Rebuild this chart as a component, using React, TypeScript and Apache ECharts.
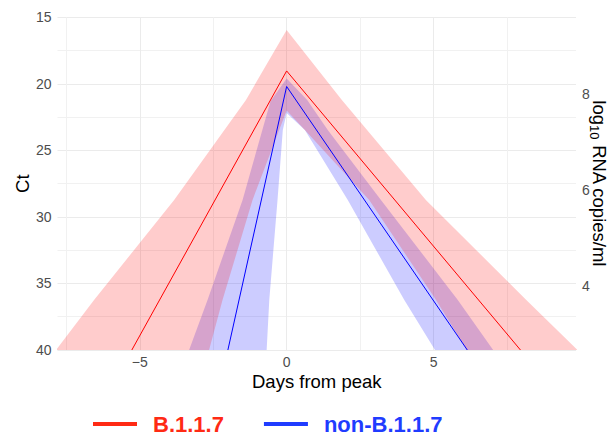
import React, { useEffect, useRef } from "react";
import * as echarts from "echarts";

// Central trajectories (days from peak, Ct)
const redLine: [number, number][] = [[-5.27, 40], [0, 19.03], [7.96, 40]];
const blueLine: [number, number][] = [[-2.0, 40], [0, 20.2], [6.15, 40]];

// Credible-interval ribbons as polygons (days from peak, Ct)
const redRibbon: [number, number][] = [
  [-7.85, 40], [-6.55, 36.23], [-3.83, 28.72], [-1.385, 21.21], [0, 15.95],
  [1.88, 21.21], [4.74, 28.72], [8.15, 36.23], [9.9, 40],
  [6.13, 40], [5.08, 36.23], [2.81, 28.72], [0.62, 23.46], [0, 22.0],
  [-1.16, 28.72], [-2.18, 36.23], [-2.64, 40],
];
const blueRibbon: [number, number][] = [
  [-3.32, 40], [-2.69, 36.23], [-1.5, 28.72], [-0.55, 21.3], [0, 19.6],
  [0.7, 21.21], [1.4, 23.46], [3.21, 28.72], [5.82, 36.23], [7.03, 40],
  [5.05, 40], [4.0, 36.23], [2.08, 28.72], [0.62, 23.46], [0, 22.2],
  [-0.13, 23.46], [-0.31, 28.72], [-0.59, 36.23], [-0.68, 40],
];

const seriesNames = ["B.1.1.7", "non-B.1.1.7"];

const FONT = "Liberation Sans, Arial, Helvetica, sans-serif";
const RED = "#ff0000";
const BLUE = "#0000ff";
const RED_LEG = "#ff2a14";
const BLUE_LEG = "#1f3cff";

function ribbonSeries(pts: [number, number][], fill: string) {
  return {
    type: "custom",
    xAxisIndex: 0,
    yAxisIndex: 0,
    silent: true,
    clip: true,
    data: pts,
    renderItem: (params: any, api: any) => {
      if (params.dataIndex !== 0) return { type: "group", children: [] };
      const points = pts.map((p) => api.coord(p));
      return {
        type: "polygon",
        shape: { points },
        style: { fill, stroke: "none" },
      };
    },
  };
}

export default function App() {
  const ref = useRef<HTMLDivElement>(null);
  useEffect(() => {
    document.body.style.margin = "0";
    if (!ref.current) return;
    const chart = echarts.init(ref.current, undefined, { renderer: "svg" });
    const minus = (v: number) => (v < 0 ? "\u2212" + Math.abs(v) : String(v));
    chart.setOption({
      animation: false,
      backgroundColor: "#ffffff",
      grid: {
        left: 57.5,
        right: 32,
        top: 17.3,
        bottom: 87,
        containLabel: false,
        outerBoundsMode: "none",
      },
      xAxis: {
        type: "value",
        min: -7.8,
        max: 9.85,
        minInterval: 5,
        maxInterval: 5,
        axisLine: { show: false, onZero: false },
        axisTick: { show: false },
        axisLabel: {
          color: "#4d4d4d",
          fontSize: 14,
          fontFamily: FONT,
          margin: 5,
          showMinLabel: false,
          showMaxLabel: false,
          formatter: minus,
        },
        splitLine: {
          show: true,
          showMinLine: false,
          showMaxLine: false,
          lineStyle: { color: "#ebebeb", width: 1 },
        },
        minorTick: { show: false, splitNumber: 2 },
        minorSplitLine: { show: true, lineStyle: { color: "#f1f1f1", width: 1 } },
        name: "Days from peak",
        nameLocation: "middle",
        nameGap: 22,
        nameMoveOverlap: false,
        nameTextStyle: { color: "#000", fontSize: 18.5, fontFamily: FONT },
      },
      yAxis: [
        {
          type: "value",
          inverse: true,
          min: 15,
          max: 40,
          interval: 5,
          axisLine: { show: false },
          axisTick: { show: false },
          axisLabel: { color: "#4d4d4d", fontSize: 14, fontFamily: FONT, margin: 6 },
          splitLine: { show: true, lineStyle: { color: "#ebebeb", width: 1 } },
          minorTick: { show: false, splitNumber: 2 },
          minorSplitLine: { show: true, lineStyle: { color: "#f1f1f1", width: 1 } },
          name: "Ct",
          nameLocation: "middle",
          nameRotate: 90,
          nameGap: 26,
          nameMoveOverlap: false,
          nameTextStyle: { color: "#000", fontSize: 18.5, fontFamily: FONT },
        },
        {
          type: "value",
          position: "right",
          min: 2.66,
          max: 9.605,
          minInterval: 2,
          maxInterval: 2,
          axisLine: { show: false },
          axisTick: { show: false },
          splitLine: { show: false },
          axisLabel: {
            color: "#4d4d4d",
            fontSize: 14,
            fontFamily: FONT,
            margin: 6,
            showMinLabel: false,
            showMaxLabel: false,
          },
          name: "{t|log}{s|10}{t| RNA copies/ml}",
          nameLocation: "middle",
          nameRotate: -90,
          nameGap: 12,
          nameMoveOverlap: false,
          nameTextStyle: {
            color: "#000",
            fontFamily: FONT,
            rich: {
              t: { fontSize: 18.5, color: "#000", fontFamily: FONT },
              s: { fontSize: 13, color: "#000", fontFamily: FONT, padding: [9, 0, 0, 0] },
            },
          },
        },
      ],
      legend: {
        left: 93,
        top: 413,
        padding: 0,
        itemWidth: 44,
        itemHeight: 4,
        itemGap: 40,
        selectedMode: false,
        textStyle: {
          fontSize: 22,
          fontWeight: "bold",
          fontFamily: FONT,
          lineHeight: 20,
          padding: [0, 0, 0, 11],
        },
        data: [
          { name: seriesNames[0], icon: "rect", itemStyle: { color: RED_LEG }, textStyle: { color: RED_LEG } },
          { name: seriesNames[1], icon: "rect", itemStyle: { color: BLUE_LEG }, textStyle: { color: BLUE_LEG } },
        ],
      },
      series: [
        ribbonSeries(blueRibbon, "rgba(0,0,255,0.2)"),
        {
          name: seriesNames[1],
          type: "line",
          data: blueLine,
          symbol: "none",
          silent: true,
          itemStyle: { color: BLUE_LEG },
          lineStyle: { color: BLUE, width: 1 },
        },
        ribbonSeries(redRibbon, "rgba(255,0,0,0.2)"),
        {
          name: seriesNames[0],
          type: "line",
          data: redLine,
          symbol: "none",
          silent: true,
          itemStyle: { color: RED_LEG },
          lineStyle: { color: RED, width: 1 },
        },
      ],
    });
    return () => chart.dispose();
  }, []);
  return <div ref={ref} style={{ width: 608, height: 437 }} />;
}
